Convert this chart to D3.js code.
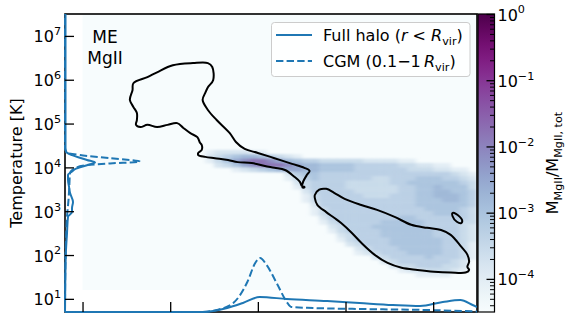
<!DOCTYPE html>
<html>
<head>
<meta charset="utf-8">
<script src="https://cdn.jsdelivr.net/npm/d3@7/dist/d3.min.js"></script>
<style>
  body { margin: 0; background: #fff; }
  svg text { font-family: "DejaVu Sans", sans-serif; }
</style>
</head>
<body>
<svg id="chart" width="571" height="314"></svg>
<script>
// ---- values ----
var xTicks = [-6, -5, -4, -3, -2];          // log density, labels fall below the crop
var yTicks = [1, 2, 3, 4, 5, 6, 7];         // log T
var cbarTicks = [0, -1, -2, -3, -4];        // log mass fraction
var panelLabel = ["ME", "MgII"];

// 2d histogram extent (log n, log T)
var histX = [-6.0, -1.5];
var histY = [1.2, 7.5];
// binned part of the histogram: columns start at log n = -4.7, rows start at log T = 4.5 (top), 0.1 dex bins
var heatX0 = -4.7, heatY0 = 4.5, heatStep = 0.1;
// digit in a row -> log10 mass fraction of that bin (0 = empty)
var heatLevels = [null, -4.05, -3.8, -3.55, -3.3, -3.05, -2.8, -2.5, -2.15, -1.8];
var heatRows = [
  "00000000000000000000000000000000",
  "01222211000000000000000000000000",
  "02345665432100000000000000000000",
  "01357899876544333332222110000000",
  "00235789998766555544444332211000",
  "00001234567766555544444433322110",
  "00000000002455444444444444444321",
  "00000000001345444444334445554432",
  "00000000000234444333334455555543",
  "00000000000134444333333445565553",
  "00000000000024444433333445566554",
  "00000000000013444443334445566654",
  "00000000000013444444444445556654",
  "00000000000002444444444445555554",
  "00000000000001344444444444555543",
  "00000000000001344444444444455543",
  "00000000000000244444444554444443",
  "00000000000000134444455555444433",
  "00000000000000023444555555444432",
  "00000000000000013444455555544432",
  "00000000000000002344455555544432",
  "00000000000000001344445555554432",
  "00000000000000000234445555554431",
  "00000000000000000023444555554431",
  "00000000000000000012344455554431",
  "00000000000000000000234444544431",
  "00000000000000000000023444444320",
  "00000000000000000000002334443320",
  "00000000000000000000000122333210",
  "00000000000000000000000001111000"
];

// black contours (log n, log T)
var contourLobe = [[-5.42,5.92],[-5.26,6.06],[-5.15,6.17],[-4.97,6.33],[-4.74,6.38],[-4.57,6.38],[-4.52,6.29],
  [-4.51,5.99],[-4.57,5.83],[-4.60,5.70],[-4.63,5.54],[-4.57,5.31],[-4.47,5.08],[-4.32,4.78],[-4.25,4.58],
  [-4.15,4.42],[-4.00,4.33],[-3.81,4.21],[-3.61,4.08],[-3.47,3.99],[-3.41,3.92],[-3.44,3.83],[-3.48,3.69],
  [-3.50,3.58],[-3.52,3.67],[-3.58,3.78],[-3.69,3.94],[-3.81,3.99],[-3.92,4.03],[-4.07,4.10],[-4.23,4.12],
  [-4.34,4.17],[-4.49,4.21],[-4.60,4.24],[-4.68,4.28],[-4.68,4.33],[-4.64,4.40],[-4.64,4.51],[-4.66,4.56],
  [-4.69,4.69],[-4.77,4.78],[-4.85,4.90],[-4.92,5.01],[-5.03,4.97],[-5.15,4.92],[-5.26,4.97],[-5.34,4.92],
  [-5.39,4.97],[-5.38,5.08],[-5.38,5.24],[-5.42,5.38],[-5.46,5.54],[-5.43,5.76]];
var contourWarm = [[-3.35,3.37],[-3.30,3.49],[-3.22,3.51],[-3.13,3.42],[-3.01,3.28],[-2.82,3.14],[-2.64,3.03],
  [-2.44,2.87],[-2.25,2.69],[-2.07,2.62],[-1.91,2.57],[-1.80,2.46],[-1.68,2.19],[-1.61,2.01],[-1.59,1.85],
  [-1.61,1.73],[-1.59,1.66],[-1.63,1.60],[-1.80,1.60],[-1.99,1.62],[-2.18,1.66],[-2.36,1.71],[-2.52,1.82],
  [-2.67,2.01],[-2.82,2.28],[-2.93,2.51],[-3.05,2.73],[-3.13,2.85],[-3.22,2.98],[-3.32,3.14],[-3.35,3.30]];
var contourSmall = [[-1.78,2.96],[-1.74,2.94],[-1.67,2.80],[-1.68,2.73],[-1.73,2.76],[-1.78,2.89]];
var contourDot = [[-3.49,3.56],[-3.47,3.56],[-3.47,3.54],[-3.49,3.54]];

// marginal distributions (arbitrary normalisation)
var tempT      = [0.7, 1.20, 1.73, 2.12, 2.50, 2.87, 2.98, 3.07, 3.21, 3.42, 3.56, 3.72, 3.83, 3.90, 3.96, 4.05, 4.11, 4.17, 4.28, 4.36, 4.44, 7.5];
var tempFull   = [0, 0.002, 0.005, 0.01, 0.02, 0.03, 0.07, 0.07, 0.08, 0.05, 0.04, 0.03, 0.03, 0.067, 0.10, 0.22, 0.30, 0.22, 0.07, 0.01, 0.005, 0.005];
var tempCgmT   = [0.7, 1.66, 2.34, 2.87, 3.26, 3.56, 3.87, 3.98, 4.05, 4.09, 4.13, 4.21, 4.28, 4.34, 4.44, 7.5];
var tempCgm    = [0, 0.003, 0.01, 0.02, 0.035, 0.043, 0.05, 0.10, 0.217, 0.45, 0.75, 0.45, 0.15, 0.017, 0, 0];
var densN      = [-6.2, -4.63, -4.35, -4.17, -3.98, -3.67, -3.21, -2.84, -2.46, -2.15, -1.89, -1.69, -1.55, -1.5];
var densFull   = [0, 0, 0.04, 0.09, 0.15, 0.13, 0.11, 0.09, 0.07, 0.06, 0.10, 0.12, 0.07, 0.05];
var densCgmN   = [-6.2, -4.66, -4.47, -4.28, -4.12, -4.03, -3.975, -3.90, -3.78, -3.67, -3.62, -3.37, -2.84, -2.07, -1.5];
var densCgm    = [0, 0, 0.02, 0.09, 0.30, 0.49, 0.54, 0.47, 0.28, 0.10, 0.05, 0.04, 0.03, 0.02, 0.005];

var legendItems = [
  { dash: null, parts: [["Full halo (", "n"], ["r", "i"], [" < ", "n"], ["R", "i"], ["vir", "sub"], [")", "n"]] },
  { dash: "7.4,3.2", parts: [["CGM (0.1\u22121\u2009", "n"], ["R", "i"], ["vir", "sub"], [")", "n"]] }
];

// ---- drawing ----
var svg = d3.select("#chart");
var x = d3.scaleLinear().domain([-6.2, -1.5]).range([65, 477]);
var y = d3.scaleLinear().domain([0.7, 7.5]).range([312, 14]);
var cb = d3.scaleLinear().domain([-4.5, 0]).range([312, 14]);
var color = d3.scaleSequential(d3.interpolateBuPu).domain([-4.5, 0]);
var marg = d3.scaleLinear().domain([0, 1]).range([0, 100]);
var blue = "#1f77b4";

function rich(sel, parts, size) {
  var shift = 0;
  parts.forEach(function(p) {
    var s = p[1] == "sub" ? size * 0.22 : (p[1] == "sup" ? -size * 0.44 : 0);
    var ts = sel.append("tspan").attr("dy", s - shift).text(p[0]);
    shift = s;
    if (p[1] == "i") ts.attr("font-style", "italic");
    if (p[1] == "sub" || p[1] == "sup") ts.attr("font-size", size * 0.7);
  });
}
function power(e) { return [["10", "n"], [e < 0 ? "\u2212" + (-e) : "" + e, "sup"]]; }

var defs = svg.append("defs");
defs.append("clipPath").attr("id", "plotClip").append("rect")
  .attr("x", x.range()[0]).attr("y", y.range()[1])
  .attr("width", x.range()[1] - x.range()[0]).attr("height", y.range()[0] - y.range()[1]);
defs.append("clipPath").attr("id", "lineClip").append("rect")
  .attr("x", x.range()[0] - 1).attr("y", y.range()[1])
  .attr("width", x.range()[1] - x.range()[0] + 1).attr("height", y.range()[0] - y.range()[1] + 1);
defs.append("filter").attr("id", "soften").attr("x", "-5%").attr("y", "-5%").attr("width", "110%").attr("height", "110%")
  .append("feGaussianBlur").attr("stdDeviation", "2.2 1.1");
var grad = defs.append("linearGradient").attr("id", "cbGrad")
  .attr("x1", 0).attr("y1", 1).attr("x2", 0).attr("y2", 0);
d3.range(0, 1.0001, 0.05).forEach(function(t) {
  grad.append("stop").attr("offset", t).attr("stop-color", d3.interpolateBuPu(t));
});

// histogram
var plot = svg.append("g").attr("clip-path", "url(#plotClip)");
plot.append("rect")
  .attr("x", x(histX[0])).attr("y", y(histY[1]))
  .attr("width", x(histX[1]) - x(histX[0])).attr("height", y(histY[0]) - y(histY[1]))
  .attr("fill", color(cb.domain()[0]));

var cells = [];
heatRows.forEach(function(row, i) {
  row.split("").forEach(function(c, j) {
    if (+c > 0) cells.push({ n: heatX0 + j * heatStep, t: heatY0 - i * heatStep, v: heatLevels[+c] });
  });
});
plot.append("g").attr("filter", "url(#soften)")
  .selectAll("rect").data(cells).enter().append("rect")
  .attr("x", function(d) { return x(d.n); })
  .attr("y", function(d) { return y(d.t); })
  .attr("width", function(d) { return x(d.n + heatStep) - x(d.n) + 0.4; })
  .attr("height", function(d) { return y(d.t - heatStep) - y(d.t) + 0.4; })
  .attr("fill", function(d) { return color(d.v); });

var contourLine = d3.line()
  .x(function(d) { return x(d[0]); }).y(function(d) { return y(d[1]); })
  .curve(d3.curveCatmullRomClosed.alpha(0.5));
plot.selectAll("path.contour").data([contourLobe, contourWarm, contourSmall, contourDot]).enter()
  .append("path").attr("class", "contour")
  .attr("d", contourLine).attr("fill", "none").attr("stroke", "#000").attr("stroke-width", 2);

// frame
svg.append("rect")
  .attr("x", x.range()[0]).attr("y", y.range()[1])
  .attr("width", x.range()[1] - x.range()[0]).attr("height", y.range()[0] - y.range()[1])
  .attr("fill", "none").attr("stroke", "#000").attr("stroke-width", 1.6);

// marginals
var lines = svg.append("g").attr("clip-path", "url(#lineClip)");
var leftLine = d3.line()
  .x(function(d) { return x.range()[0] + marg(d[1]); }).y(function(d) { return y(d[0]); })
  .curve(d3.curveMonotoneY);
var bottomLine = d3.line()
  .x(function(d) { return x(d[0]); }).y(function(d) { return y.range()[0] - marg(d[1]); })
  .curve(d3.curveMonotoneX);
var marginals = [
  { d: leftLine(d3.zip(tempT, tempFull)), dash: null },
  { d: leftLine(d3.zip(tempCgmT, tempCgm)), dash: "7.4,3.2" },
  { d: bottomLine(d3.zip(densN, densFull)), dash: null },
  { d: bottomLine(d3.zip(densCgmN, densCgm)), dash: "7.4,3.2" }
];
lines.selectAll("path").data(marginals).enter().append("path")
  .attr("d", function(d) { return d.d; })
  .attr("fill", "none").attr("stroke", blue).attr("stroke-width", 2)
  .attr("stroke-dasharray", function(d) { return d.dash; });

// axes
var gy = svg.append("g").attr("transform", "translate(" + x.range()[0] + ",0)")
  .call(d3.axisLeft(y).tickValues(yTicks).tickSize(-9).tickFormat(""));
gy.select(".domain").remove();
gy.selectAll(".tick line").attr("stroke", "#000").attr("stroke-width", 1.3);
gy.selectAll(".tick text").remove();
gy.selectAll(".tick").append("text")
  .attr("x", -4).attr("y", 6).attr("text-anchor", "end").attr("fill", "#000")
  .attr("font-size", 16).attr("font-family", "DejaVu Sans")
  .each(function(d) { rich(d3.select(this), power(d), 16); });

var gx = svg.append("g").attr("transform", "translate(0," + y.range()[0] + ")")
  .call(d3.axisBottom(x).tickValues(xTicks).tickSize(-10).tickFormat(""));
gx.select(".domain").remove();
gx.selectAll(".tick line").attr("stroke", "#000").attr("stroke-width", 1.3);

svg.append("text")
  .attr("transform", "translate(21.5," + (y.range()[0] + y.range()[1]) / 2 + ") rotate(-90)")
  .attr("text-anchor", "middle").attr("font-size", 16).text("Temperature [K]");

svg.selectAll("text.panel").data(panelLabel).enter().append("text").attr("class", "panel")
  .attr("x", 105).attr("y", function(d, i) { return 43 + i * 20.5; })
  .attr("text-anchor", "middle").attr("font-size", 17).text(function(d) { return d; });

// colorbar
var cbX = 478, cbW = 16.5;
svg.append("rect").attr("x", cbX).attr("y", cb.range()[1])
  .attr("width", cbW).attr("height", cb.range()[0] - cb.range()[1])
  .attr("fill", "url(#cbGrad)").attr("stroke", "#000").attr("stroke-width", 1.2);
var minor = [];
d3.range(-5, 0).forEach(function(dec) {
  d3.range(2, 10).forEach(function(k) {
    var v = dec + Math.log10(k);
    if (v > cb.domain()[0] && v < cb.domain()[1]) minor.push(v);
  });
});
var gcMinor = svg.append("g").attr("transform", "translate(" + (cbX + cbW) + ",0)")
  .call(d3.axisRight(cb).tickValues(minor).tickSize(-4.5).tickFormat(""));
gcMinor.select(".domain").remove();
gcMinor.selectAll(".tick line").attr("stroke", "#000").attr("stroke-width", 1);
var gc = svg.append("g").attr("transform", "translate(" + (cbX + cbW) + ",0)")
  .call(d3.axisRight(cb).tickValues(cbarTicks).tickSize(-8).tickFormat(""));
gc.select(".domain").remove();
gc.selectAll(".tick line").attr("stroke", "#000").attr("stroke-width", 1.3);
gc.selectAll(".tick text").remove();
gc.selectAll(".tick").append("text")
  .attr("x", 3).attr("y", 6).attr("fill", "#000")
  .attr("font-size", 16).attr("font-family", "DejaVu Sans")
  .each(function(d) { rich(d3.select(this), power(d), 16); });

var cbLabel = svg.append("text")
  .attr("transform", "translate(558," + (cb.range()[0] + cb.range()[1]) / 2 + ") rotate(-90)")
  .attr("text-anchor", "middle").attr("font-size", 16);
rich(cbLabel, [["M", "n"], ["MgII", "sub"], ["/M", "n"], ["MgII, tot", "sub"]], 16);

// legend
var lg = svg.append("g").attr("transform", "translate(271.5,22.5)");
lg.append("rect").attr("width", 198.5).attr("height", 54).attr("rx", 3)
  .attr("fill", "#fff").attr("fill-opacity", 0.8).attr("stroke", "#cccccc").attr("stroke-width", 1);
var li = lg.selectAll("g.item").data(legendItems).enter().append("g").attr("class", "item")
  .attr("transform", function(d, i) { return "translate(0," + (12.5 + i * 26) + ")"; });
li.append("line").attr("x1", 4.5).attr("x2", 40.5)
  .attr("stroke", blue).attr("stroke-width", 2)
  .attr("stroke-dasharray", function(d) { return d.dash; });
li.append("text").attr("x", 51.5).attr("y", 6).attr("font-size", 16)
  .each(function(d) { rich(d3.select(this), d.parts, 16); });
</script>
</body>
</html>
